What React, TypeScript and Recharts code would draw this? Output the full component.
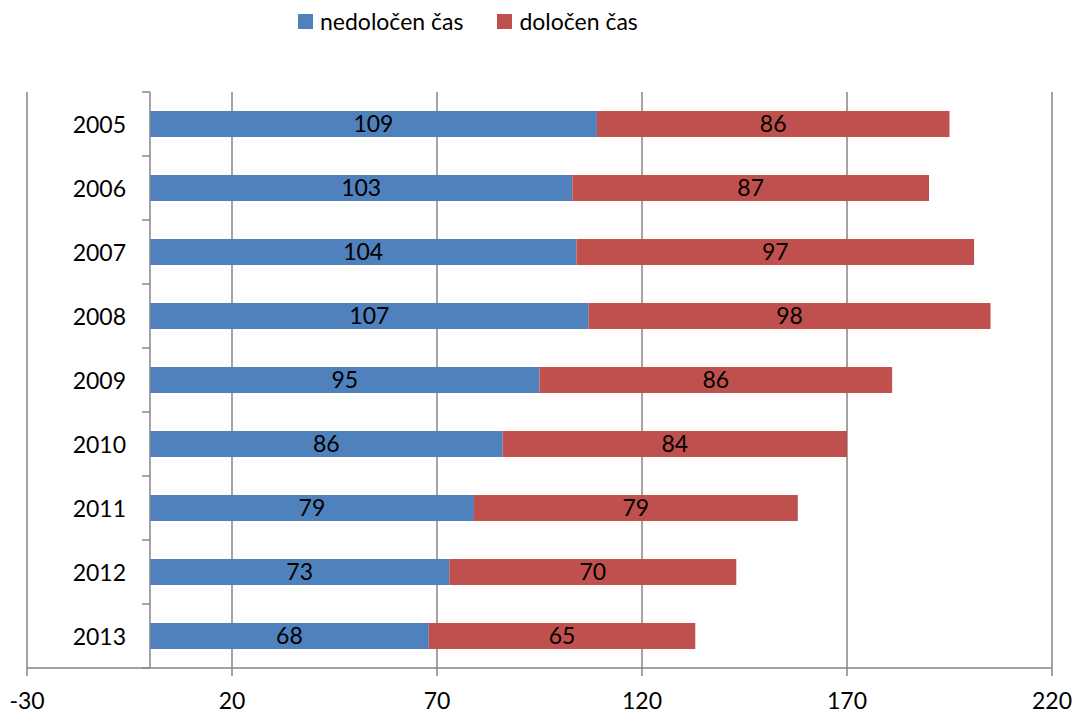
import { BarChart, Bar, XAxis, YAxis, CartesianGrid, ReferenceLine, LabelList } from "recharts";

const years = ["2005", "2006", "2007", "2008", "2009", "2010", "2011", "2012", "2013"];
const nedolocen = [109, 103, 104, 107, 95, 86, 79, 73, 68];
const dolocen = [86, 87, 97, 98, 86, 84, 79, 70, 65];
const xTicks = [-30, 20, 70, 120, 170, 220];

const W = 1078;
const H = 715;
const M = { top: 92, right: 26, left: 26, bottom: 0 };
const Y_AXIS_W = 1;
const X_AXIS_H = 47;
const PLOT_LEFT = M.left + Y_AXIS_W;
const PLOT_W = W - PLOT_LEFT - M.right;
const PLOT_H = H - M.top - X_AXIS_H;
const BAND = PLOT_H / years.length;
const X_ZERO = PLOT_LEFT + ((0 - xTicks[0]) / (xTicks[xTicks.length - 1] - xTicks[0])) * PLOT_W;

const BLUE = "#4F81BD";
const RED = "#C0504D";
const GRID = "#868686";
const FONT = "Lato, 'Open Sans', sans-serif";
const FS = 23;

const data = years.map((y, i) => ({ year: y, ned: nedolocen[i], dol: dolocen[i] }));

const YearTick = (props: { y?: number; payload?: { value: string }; index?: number }) => {
  const { y, payload, index } = props;
  const yy = y ?? 0;
  return (
    <g>
      <text x={X_ZERO - 24} y={yy} textAnchor="end" dominantBaseline="central" fontSize={FS} fill="#000" fontFamily={FONT}>
        {payload?.value}
      </text>
      <line x1={X_ZERO - 8} x2={X_ZERO} y1={yy - BAND / 2} y2={yy - BAND / 2} stroke={GRID} strokeWidth={1.5} />
      {index === years.length - 1 && (
        <line x1={X_ZERO - 8} x2={X_ZERO} y1={yy + BAND / 2} y2={yy + BAND / 2} stroke={GRID} strokeWidth={1.5} />
      )}
    </g>
  );
};

export default function App() {
  return (
    <div style={{ position: "absolute", left: 0, top: 0, width: W, height: H, background: "#fff", fontFamily: FONT }}>
      <div
        style={{
          position: "absolute",
          top: 7,
          left: 298,
          display: "flex",
          alignItems: "center",
          fontSize: FS,
          color: "#000",
          whiteSpace: "nowrap",
        }}
      >
        <span style={{ width: 15, height: 15, background: BLUE, display: "inline-block", marginRight: 7 }} />
        <span>nedoločen čas</span>
        <span style={{ width: 15, height: 15, background: RED, display: "inline-block", marginLeft: 34, marginRight: 7 }} />
        <span>določen čas</span>
      </div>
      <BarChart width={W} height={H} data={data} layout="vertical" margin={M} barSize={26}>
        <CartesianGrid horizontal={false} stroke={GRID} strokeWidth={1.5} />
        <XAxis
          type="number"
          domain={[xTicks[0], xTicks[xTicks.length - 1]]}
          ticks={xTicks}
          height={X_AXIS_H}
          tickSize={8}
          tickMargin={17}
          axisLine={{ stroke: GRID, strokeWidth: 1.5 }}
          tickLine={{ stroke: GRID, strokeWidth: 1.5 }}
          tick={{ fontSize: FS, fill: "#000", fontFamily: FONT }}
          allowDataOverflow
        />
        <YAxis
          type="category"
          dataKey="year"
          width={Y_AXIS_W}
          axisLine={false}
          tickLine={false}
          tick={(p: any) => <YearTick {...p} />}
          interval={0}
        />
        <Bar dataKey="ned" stackId="a" fill={BLUE} isAnimationActive={false}>
          <LabelList dataKey="ned" position="center" fill="#000" fontSize={FS} fontFamily={FONT} />
        </Bar>
        <Bar dataKey="dol" stackId="a" fill={RED} isAnimationActive={false}>
          <LabelList dataKey="dol" position="center" fill="#000" fontSize={FS} fontFamily={FONT} />
        </Bar>
        <ReferenceLine x={0} stroke={GRID} strokeWidth={1.5} />
      </BarChart>
    </div>
  );
}
